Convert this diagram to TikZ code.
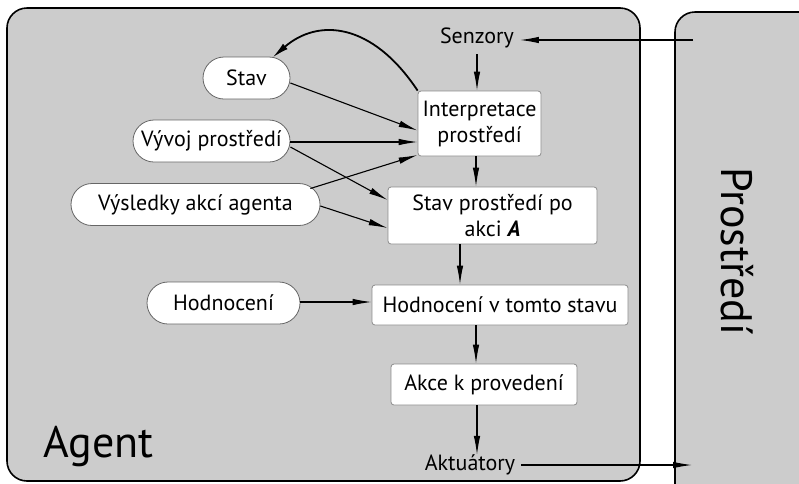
\documentclass[tikz,border=0pt]{standalone}
\usepackage{fontspec}
\setmainfont{PT Sans}
\usetikzlibrary{arrows.meta,calc}
\definecolor{panel}{HTML}{CCCCCC}
\begin{document}
\begin{tikzpicture}[x=1pt,y=-1pt,
  every node/.style={font=\fontsize{22}{26}\selectfont, inner sep=0pt},
  pill/.style={draw=black!60, fill=white, line width=0.8pt, rounded corners=21pt,
    minimum height=42pt},
  stepbox/.style={draw=black!45, fill=white, line width=0.8pt, rounded corners=3pt,
    align=center},
  port/.style={outer sep=6pt},
  flow/.style={line width=1.1pt, -{Latex[length=19pt,width=6.5pt]}},
  bold flow/.style={line width=1.8pt, -{Latex[length=17pt,width=7pt]}}]
\useasboundingbox (0,0) rectangle (799,483);
\clip (0,0) rectangle (799,483);

% the two frames
\draw[fill=panel, line width=1.6pt, rounded corners=20pt] (675,12) rectangle (860,540);
\draw[fill=panel, line width=1.6pt, rounded corners=20pt] (7,8) rectangle (640,481);
\node[rotate=-90, font=\fontsize{44}{48}\selectfont] (env) at (737,251) {Prostředí};
\node[anchor=base west, font=\fontsize{44}{48}\selectfont] (agent) at (43,457) {Agent};

% sensors and actuators
\node[port] (sens) at (477,38) {Senzory};
\node[port] (act) at (470,465) {Aktuátory};
\coordinate (envin) at (693,40);
\coordinate (envout) at (692,465);

% processing steps
\node[stepbox, minimum width=123pt, minimum height=65pt] (interp) at (479.5,123.5)
  {Interpretace\\prostředí};
\node[stepbox, minimum width=209pt, minimum height=57pt] (state) at (492.5,215.5)
  {Stav prostředí po\\akci \textbf{\textit{A}}};
\node[stepbox, minimum width=256pt, minimum height=40pt] (eval) at (500,305)
  {Hodnocení v tomto stavu};
\node[stepbox, minimum width=186pt, minimum height=41pt] (todo) at (484,384.5)
  {Akce k provedení};

% knowledge
\node[pill, minimum width=87pt] (stav) at (246.5,78) {Stav};
\node[pill, minimum width=157pt] (vyv) at (211.5,141) {Vývoj prostředí};
\node[pill, minimum width=249pt] (vys) at (195.5,204.5) {Výsledky akcí agenta};
\node[pill, minimum width=153pt] (hod) at (223.5,303) {Hodnocení};

% connectors
\draw[flow] (envin) -- (sens.east |- envin);
\draw[flow] (sens.south -| 477,0) -- (interp.north -| 477,0);
\draw[flow] ($(stav.east)+(0,5)$) -- ($(interp.west)+(0,7)$);
\draw[flow] ($(vyv.east)+(0,1)$) -- ($(interp.west)+(0,18.5)$);
\draw[flow] ($(vyv.east)+(0,6)$) -- ($(state.west)+(0,-15.5)$);
\draw[flow] ($(vys.east)+(-10,-16)$) -- ($(interp.west)+(0,31.5)$);
\draw[flow] ($(vys.east)+(0,1.5)$) -- ($(state.west)+(0,12.5)$);
\draw[flow] ($(hod.east)+(0,-1)$) -- ($(eval.west)+(0,-3)$);
\draw[flow] (interp.south -| 476,0) -- (state.north -| 476,0);
\draw[flow] (state.south -| 460,0) -- (eval.north -| 460,0);
\draw[flow] (eval.south -| 476,0) -- (todo.north -| 476,0);
\draw[flow] (todo.south -| 477,0) -- ($(act.north -| 477,0)+(0,6)$);
\draw[flow] (act.east) -- (envout);
\draw[bold flow] (interp.north west) .. controls (372,22) and (318,18) .. ($(stav.north east)+(-18,1)$);
\end{tikzpicture}
\end{document}
